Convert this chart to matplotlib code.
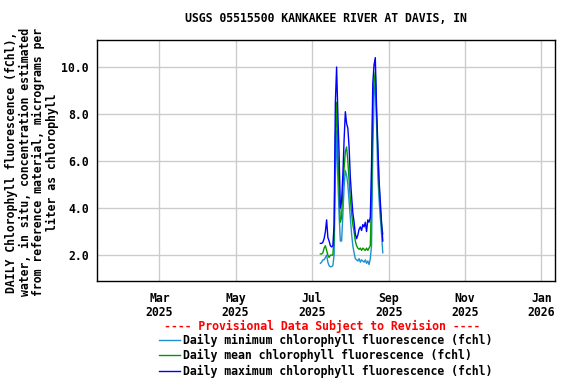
import matplotlib
matplotlib.use("Agg")
import matplotlib.pyplot as plt
import matplotlib.dates as mdates
import numpy as np
import pandas as pd
from matplotlib.lines import Line2D

title = "USGS 05515500 KANKAKEE RIVER AT DAVIS, IN"
ylabel = ("DAILY Chlorophyll fluorescence (fChl),\n"
          "water, in situ, concentration estimated\n"
          "from reference material, micrograms per\n"
          "liter as chlorophyll")
dates = pd.date_range("2025-07-08", periods=51, freq="D")

min_vals = [1.65, 1.7, 1.8, 1.8, 1.9, 2.0, 1.7, 1.55, 1.5, 1.52, 1.55, 2.0, 5.3, 7.3, 5.2,
            3.7, 2.6, 2.6, 3.7, 4.9, 5.6, 5.4, 5.0, 4.3, 3.6, 2.9, 2.4, 2.1, 1.85, 1.8,
            1.75, 1.85, 1.7, 1.8, 1.75, 1.7, 1.8, 1.65, 1.75, 1.6, 1.85, 2.4, 6.4, 8.7, 9.6,
            7.6, 5.4, 4.4, 3.6, 2.9, 2.1]
mean_vals = [2.05, 2.05, 2.1, 2.3, 2.4, 2.2, 2.0, 1.9, 2.0, 2.0, 2.0, 2.8, 7.0, 8.5, 6.3,
             4.8, 3.4, 3.6, 4.9, 5.7, 6.4, 6.6, 6.0, 5.2, 4.4, 3.8, 3.3, 3.0, 2.6, 2.4,
             2.3, 2.25, 2.3, 2.2, 2.3, 2.25, 2.2, 2.3, 2.2, 2.3, 2.4, 4.5, 8.3, 9.4, 9.8,
             8.0, 6.5, 5.0, 4.0, 3.3, 2.9]
max_vals = [2.5, 2.5, 2.55, 2.7, 3.0, 3.5, 2.75, 2.6, 2.4, 2.35, 2.4, 3.3, 8.5, 10.0, 8.0,
            6.3, 4.0, 4.3, 5.4, 6.9, 8.1, 7.6, 7.4, 6.6, 5.3, 4.5, 3.8, 3.4, 2.9, 2.7,
            2.85, 3.1, 3.2, 3.05, 3.3, 3.2, 3.4, 3.0, 3.5, 3.4, 3.6, 5.9, 9.3, 10.1, 10.4,
            8.3, 6.7, 5.2, 4.3, 3.4, 2.6]

series_labels = ["Daily minimum chlorophyll fluorescence (fchl)",
                 "Daily mean chlorophyll fluorescence (fchl)",
                 "Daily maximum chlorophyll fluorescence (fchl)"]
colors = ["#1f8fd0", "#009900", "#0000ff"]
yticks = [2.0, 4.0, 6.0, 8.0, 10.0]
xtick_dates = pd.to_datetime(["2025-03-01", "2025-05-01", "2025-07-01",
                              "2025-09-01", "2025-11-01", "2026-01-01"])
xtick_labels = ["Mar\n2025", "May\n2025", "Jul\n2025", "Sep\n2025", "Nov\n2025", "Jan\n2026"]

FONT = "DejaVu Sans Mono"
FS = 8.3

fig = plt.figure(figsize=(5.76, 3.84), dpi=100)
ax = fig.add_axes([97/576, 1-281/384, (555-97)/576, (281-40)/384])

for vals, c, lab in zip([min_vals, mean_vals, max_vals], colors, series_labels):
    ax.plot(dates, vals, color=c, lw=1.0, label=lab)

ax.set_xlim(pd.Timestamp("2025-01-10"), pd.Timestamp("2026-01-12"))
ax.set_ylim(0.9, 11.15)
ax.set_yticks(yticks)
ax.set_yticklabels([f"{v:.1f}" for v in yticks], fontfamily=FONT, fontweight="bold", fontsize=FS)
ax.set_xticks(xtick_dates)
ax.set_xticklabels(xtick_labels, fontfamily=FONT, fontweight="bold", fontsize=FS, linespacing=1.05)
ax.grid(True, color="#cccccc", lw=1)
ax.set_axisbelow(True)
ax.tick_params(axis="both", length=0, pad=8)
ax.tick_params(axis="y", pad=6)
for s in ax.spines.values():
    s.set_color("black")
    s.set_linewidth(1)

fig.text(326/576, 1-19/384, title, ha="center", va="center",
         fontfamily=FONT, fontweight="bold", fontsize=FS)
fig.text(32/576, 1-162/384, ylabel, ha="center", va="center", rotation=90,
         fontfamily=FONT, fontweight="bold", fontsize=FS, linespacing=1.05)

fig.text(322/576, 1-326/384, "---- Provisional Data Subject to Revision ----",
         ha="center", va="center", color="red",
         fontfamily=FONT, fontweight="bold", fontsize=FS)

handles = [Line2D([], [], color=c, lw=1) for c in colors]
fig.legend(handles, series_labels, loc="upper left",
           bbox_to_anchor=(159/576, 1-334/384), frameon=False,
           prop={"family": FONT, "weight": "bold", "size": FS},
           handlelength=1.8, handletextpad=0.3, labelspacing=0.2,
           borderpad=0, borderaxespad=0)

fig.savefig("out.png", dpi=100)
